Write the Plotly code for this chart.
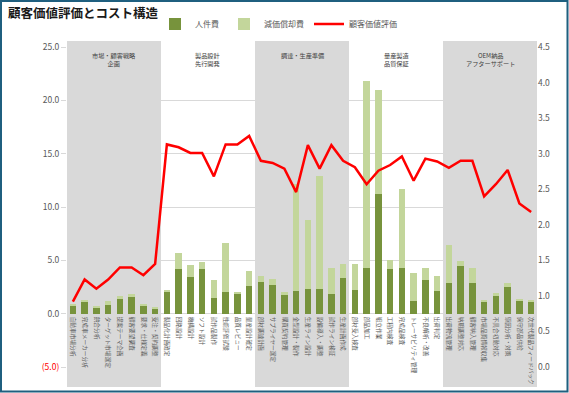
import plotly.graph_objects as go

categories = [
    "自動車市場分析", "完成車メーカー分析", "競合分析", "ターゲット市場選定",
    "提案テーマ企画", "顧客要望調査", "要求・仕様定義", "受注・契約調整",
    "製品化計画確定", "回路設計", "機構設計", "ソフト設計",
    "試作品製作", "性能評価試験", "品質レビュー", "量産設計確定",
    "部材調達計画", "サプライヤー選定", "購買契約管理", "金型設計・製作",
    "生産ライン設計", "設備導入・調整", "試作ライン検証", "生産計画作成",
    "部材受入検査", "部品加工", "組立作業", "工程内検査",
    "完成品検査", "トレーサビリティ管理", "不良解析・改善", "出荷判定",
    "出荷物流管理", "納期調整対応", "顧客納入管理", "市場品質情報収集",
    "不具合初動対応", "原因分析・対策", "保守部品供給", "次世代製品フィードバック",
]

labor = [
    0.75, 1.05, 0.6, 0.85, 1.4, 1.55, 0.8, 0.45,
    2.0, 4.2, 3.4, 4.2, 1.5, 2.0, 1.8, 2.6,
    2.95, 2.7, 1.75, 2.1, 2.35, 2.35, 1.8, 3.35,
    2.25, 4.3, 11.2, 4.2, 4.3, 1.2, 3.2, 2.15,
    2.9, 4.5, 2.9, 1.15, 1.7, 2.5, 1.15, 1.05,
]

depreciation = [
    0.15, 0.25, 0.1, 0.3, 0.3, 0.3, 0.1, 0.1,
    0.25, 1.5, 1.2, 0.65, 1.7, 4.6, 0.25, 1.4,
    0.6, 0.55, 0.3, 10.1, 6.45, 10.6, 2.5, 1.3,
    2.45, 17.5, 9.8, 0.8, 7.35, 2.65, 1.1, 1.35,
    3.5, 0.4, 1.4, 0.15, 0.25, 0.4, 0.2, 0.2,
]

value_score = [
    0.92, 1.23, 1.10, 1.23, 1.40, 1.40, 1.29, 1.45,
    3.13, 3.09, 3.01, 3.01, 2.68, 3.13, 3.13, 3.25,
    2.90, 2.87, 2.79, 2.46, 3.12, 2.79, 3.12, 2.90,
    2.81, 2.57, 2.76, 2.84, 2.96, 2.62, 2.93, 2.89,
    2.80, 2.90, 2.90, 2.40, 2.57, 2.77, 2.30, 2.18,
]

group_names = [
    "市場・顧客戦略<br>企画", "製品設計<br>先行開発", "調達・生産準備",
    "量産製造<br>品質保証", "OEM納品<br>アフターサポート",
]
group_size = 8
shaded_groups = [0, 2, 4]

left_ticks = [-5, 0, 5, 10, 15, 20, 25]
right_ticks = [0, 0.5, 1.0, 1.5, 2.0, 2.5, 3.0, 3.5, 4.0, 4.5]

FONT = "Noto Sans CJK JP, Noto Sans, sans-serif"
GRAY = "#595959"

left_text = [
    (f"<span style='color:#ff0000'>({abs(v):.1f})</span>" if v < 0 else f"{v:.1f}")
    for v in left_ticks
]

fig = go.Figure()
fig.add_trace(go.Bar(x=categories, y=labor, name="人件費",
                     marker=dict(color="#77933c", line=dict(width=0))))
fig.add_trace(go.Bar(x=categories, y=depreciation, name="減価償却費",
                     marker=dict(color="#c3d69b", line=dict(width=0))))
fig.add_trace(go.Scatter(x=categories, y=value_score, name="顧客価値評価",
                         mode="lines", yaxis="y2",
                         line=dict(color="#ff0000", width=2.5)))

W, H, L, R, T, B = 569, 393, 67, 32, 47, 26
pw, ph = W - L - R, H - T - B

shapes = []
for g in shaded_groups:
    shapes.append(dict(type="rect", xref="x", yref="paper",
                       x0=g * group_size - 0.5, x1=(g + 1) * group_size - 0.5,
                       y0=-20 / ph, y1=1 + 6 / ph,
                       fillcolor="#d9d9d9", line=dict(width=0), layer="between"))

# figure border
shapes.append(dict(type="rect", xref="paper", yref="paper",
                   x0=(1 - L) / pw, x1=(W - 1.5 - L) / pw,
                   y0=-(B - 1.5) / ph, y1=1 + (T - 1) / ph,
                   line=dict(color="#1f5f7f", width=2), fillcolor="rgba(0,0,0,0)",
                   layer="above"))

annotations = []
for i, name in enumerate(group_names):
    annotations.append(dict(x=i * group_size + (group_size - 1) / 2, xref="x",
                            y=0.995, yref="paper", yanchor="top", showarrow=False,
                            text=name, font=dict(family=FONT, size=6.2, color="#404040")))

fig.update_layout(
    width=W, height=H,
    margin=dict(l=L, r=R, t=T, b=B, autoexpand=False),
    paper_bgcolor="white", plot_bgcolor="white",
    barmode="stack", bargap=0.45,
    font=dict(family=FONT, color=GRAY),
    title=dict(text="<b>顧客価値評価とコスト構造</b>", x=8 / W, xanchor="left",
               y=1 - 14 / H, yanchor="middle",
               font=dict(family=FONT, size=12.5, color="#1a1a1a")),
    legend=dict(orientation="h", x=0.45, xanchor="center", y=1 + 23 / ph,
                yanchor="middle", traceorder="normal",
                font=dict(family=FONT, size=8, color=GRAY),
                bgcolor="rgba(0,0,0,0)"),
    xaxis=dict(type="category", range=[-0.5, len(categories) - 0.5],
               anchor="free", position=(0 - left_ticks[0]) / (left_ticks[-1] - left_ticks[0]),
               tickangle=90, showgrid=False, showline=False, ticks="",
               automargin=False, ticklabelstandoff=2,
               tickfont=dict(family=FONT, size=5.7, color=GRAY)),
    yaxis=dict(range=[left_ticks[0], left_ticks[-1]], tickvals=left_ticks,
               ticktext=left_text, showgrid=True, gridcolor="#d9d9d9",
               gridwidth=1, zeroline=False, showline=False, automargin=False,
               ticks="outside", ticklen=5, tickcolor="#d9d9d9",
               tickfont=dict(family=FONT, size=8.5, color=GRAY)),
    yaxis2=dict(range=[right_ticks[0], right_ticks[-1]], tickvals=right_ticks,
                tickformat=".1f", overlaying="y", side="right", automargin=False,
                showgrid=False, zeroline=False, showline=False,
                tickfont=dict(family=FONT, size=8.5, color=GRAY)),
    shapes=shapes,
    annotations=annotations,
)

fig.write_html("out.html")
